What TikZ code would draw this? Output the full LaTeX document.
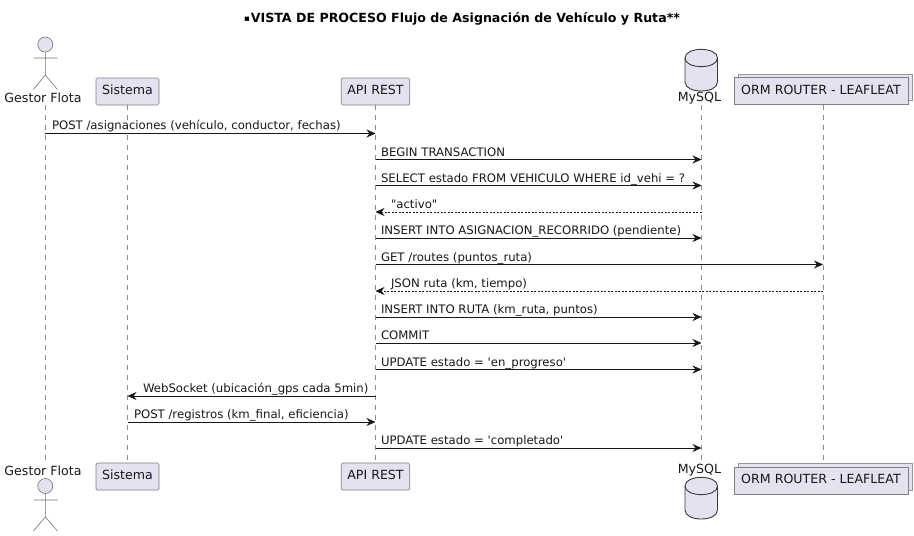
\documentclass[tikz,border=0pt]{standalone}
\usepackage{fontspec}
\setmainfont{DejaVu Sans}[Ligatures=TeXOff]
\usetikzlibrary{arrows.meta}
\definecolor{pfill}{HTML}{E2E2F0}
\definecolor{pline}{HTML}{181818}
\tikzset{
  x=1pt,y=-1pt,
  every node/.style={font=\fontsize{11.7pt}{14pt}\selectfont,text=pline,inner sep=0pt,outer sep=0pt},
  plabel/.style={font=\fontsize{12.6pt}{15pt}\selectfont},
  pbox/.style={plabel,draw=pline!55,fill=pfill,line width=0.7pt,rounded corners=1.5pt,minimum height=27pt,anchor=center,text height=9pt,text depth=2.5pt},
  pback/.style={draw=pline!45,fill=pfill,line width=0.7pt},
  life/.style={draw=pline!50,line width=0.6pt,dash pattern=on 5pt off 5pt},
  fig/.style={draw=pline!60,line width=0.6pt},
  headc/.style={circle,draw=pline!60,fill=pfill,line width=0.6pt,minimum size=15pt},
  dbline/.style={draw=pline!85,line width=0.9pt,fill=pfill},
  msg/.style={draw=pline,line width=0.75pt,-{Stealth[length=9pt,width=8pt,inset=3pt]}},
  rmsg/.style={draw=pline,line width=0.6pt,dash pattern=on 2pt off 1.5pt,-{Stealth[length=9pt,width=8pt,inset=3pt]}},
  mlabel/.style={anchor=base west},
}
\begin{document}
\begin{tikzpicture}
\useasboundingbox (0,0) rectangle (914,536);
\fill[white] (0,0) rectangle (914,536);
% title
\node[font=\fontsize{12.6pt}{14pt}\selectfont\bfseries,text=black] (title) at (462,19) {\raisebox{1.6pt}{\fontsize{8.5pt}{10pt}\selectfont ▪}\hspace{1pt}VISTA DE PROCESO Flujo de Asignación de Vehículo y Ruta**};
% lifeline anchors drawn first
\coordinate (gfT) at (45.3,105);
\coordinate (gfB) at (45.3,462);
\coordinate (dbT) at (701.5,105);
\coordinate (dbB) at (701.5,463);
% top heads
\node[pbox,minimum width=63pt] (sisT) at (127.5,91.5) {Sistema};
\node[pbox,minimum width=68.5pt] (apiT) at (375.5,91.5) {API REST};
\draw[pback] (738,74) rectangle (912,100.5);
\node[pbox,rounded corners=0pt,minimum width=174pt] (ormT) at (821,91) {ORM ROUTER - LEAFLEAT};
% bottom heads
\node[pbox,minimum width=63pt] (sisB) at (127.5,476.5) {Sistema};
\node[pbox,minimum width=68.5pt] (apiB) at (375.5,476.5) {API REST};
\draw[pback] (738,463.5) rectangle (912,490);
\node[pbox,rounded corners=0pt,minimum width=174pt] (ormB) at (821,480.5) {ORM ROUTER - LEAFLEAT};
% lifelines
\draw[life] (gfT) -- (gfB);
\draw[life] (sisT.south) -- (sisB.north);
\draw[life] (apiT.south) -- (apiB.north);
\draw[life] (dbT) -- (dbB);
\draw[life] (ormT.south -| 823,0) -- (823,463.5);
% actors
\node[headc] (headT) at (45.3,44.5) {};
\draw[fig] (headT.south) -- (45.3,75) -- (33.5,89.5) (45.3,75) -- (57.5,89.5) (33.5,58) -- (57.5,58);
\node[plabel] (gfLT) at (43,98) {Gestor Flota};
\node[plabel] (gfLB) at (43,470.5) {Gestor Flota};
\node[headc] (headB) at (45.3,486) {};
\draw[fig] (headB.south) -- (45.3,517) -- (33.5,531) (45.3,517) -- (57.5,531) (33.5,500) -- (57.5,500);
% databases
\draw[dbline] (685,58) .. controls (685,46.5) and (717.5,46.5) .. (717.5,58) -- (717.5,82) .. controls (717.5,94) and (685,94) .. (685,82) -- cycle;
\draw[dbline,fill=none] (685,58) .. controls (685,69.5) and (717.5,69.5) .. (717.5,58);
\node[plabel] (dbLT) at (699.5,98) {MySQL};
\draw[dbline] (685,486) .. controls (685,474.5) and (717.5,474.5) .. (717.5,486) -- (717.5,510) .. controls (717.5,522) and (685,522) .. (685,510) -- cycle;
\draw[dbline,fill=none] (685,486) .. controls (685,497.5) and (717.5,497.5) .. (717.5,486);
\node[plabel] (dbLB) at (699.5,470.5) {MySQL};
% messages
\coordinate (ormX) at (823,0);
\draw[msg] (gfT |- 0,133.5) -- (apiT |- 0,133.5);
\node[mlabel] (m1) at (52,129.5) {POST /asignaciones (vehículo, conductor, fechas)};
\draw[msg] (apiT |- 0,159.5) -- (dbT |- 0,159.5);
\node[mlabel] (m2) at (381,156) {BEGIN TRANSACTION};
\draw[msg] (apiT |- 0,185.5) -- (dbT |- 0,185.5);
\node[mlabel] (m3) at (381,182) {SELECT estado FROM VEHICULO WHERE id\_vehi = ?};
\draw[rmsg] (dbT |- 0,212) -- (apiT |- 0,212);
\node[mlabel] (m4) at (391,208) {"activo"};
\draw[msg] (apiT |- 0,238) -- (dbT |- 0,238);
\node[mlabel] (m5) at (381,234.5) {INSERT INTO ASIGNACION\_RECORRIDO (pendiente)};
\draw[msg] (apiT |- 0,264.5) -- (ormX |- 0,264.5);
\node[mlabel] (m6) at (381,261) {GET /routes (puntos\_ruta)};
\draw[rmsg] (ormX |- 0,291) -- (apiT |- 0,291);
\node[mlabel] (m7) at (391,287) {JSON ruta (km, tiempo)};
\draw[msg] (apiT |- 0,317) -- (dbT |- 0,317);
\node[mlabel] (m8) at (381,313.5) {INSERT INTO RUTA (km\_ruta, puntos)};
\draw[msg] (apiT |- 0,343) -- (dbT |- 0,343);
\node[mlabel] (m9) at (381,339.5) {COMMIT};
\draw[msg] (apiT |- 0,369.5) -- (dbT |- 0,369.5);
\node[mlabel] (m10) at (381,366) {UPDATE estado = 'en\_progreso'};
\draw[msg] (apiT |- 0,396) -- (sisT |- 0,396);
\node[mlabel] (m11) at (143,392) {WebSocket (ubicación\_gps cada 5min)};
\draw[msg] (sisT |- 0,422) -- (apiT |- 0,422);
\node[mlabel] (m12) at (134,418.5) {POST /registros (km\_final, eficiencia)};
\draw[msg] (apiT |- 0,448) -- (dbT |- 0,448);
\node[mlabel] (m13) at (381,444.5) {UPDATE estado = 'completado'};
\end{tikzpicture}
\end{document}
